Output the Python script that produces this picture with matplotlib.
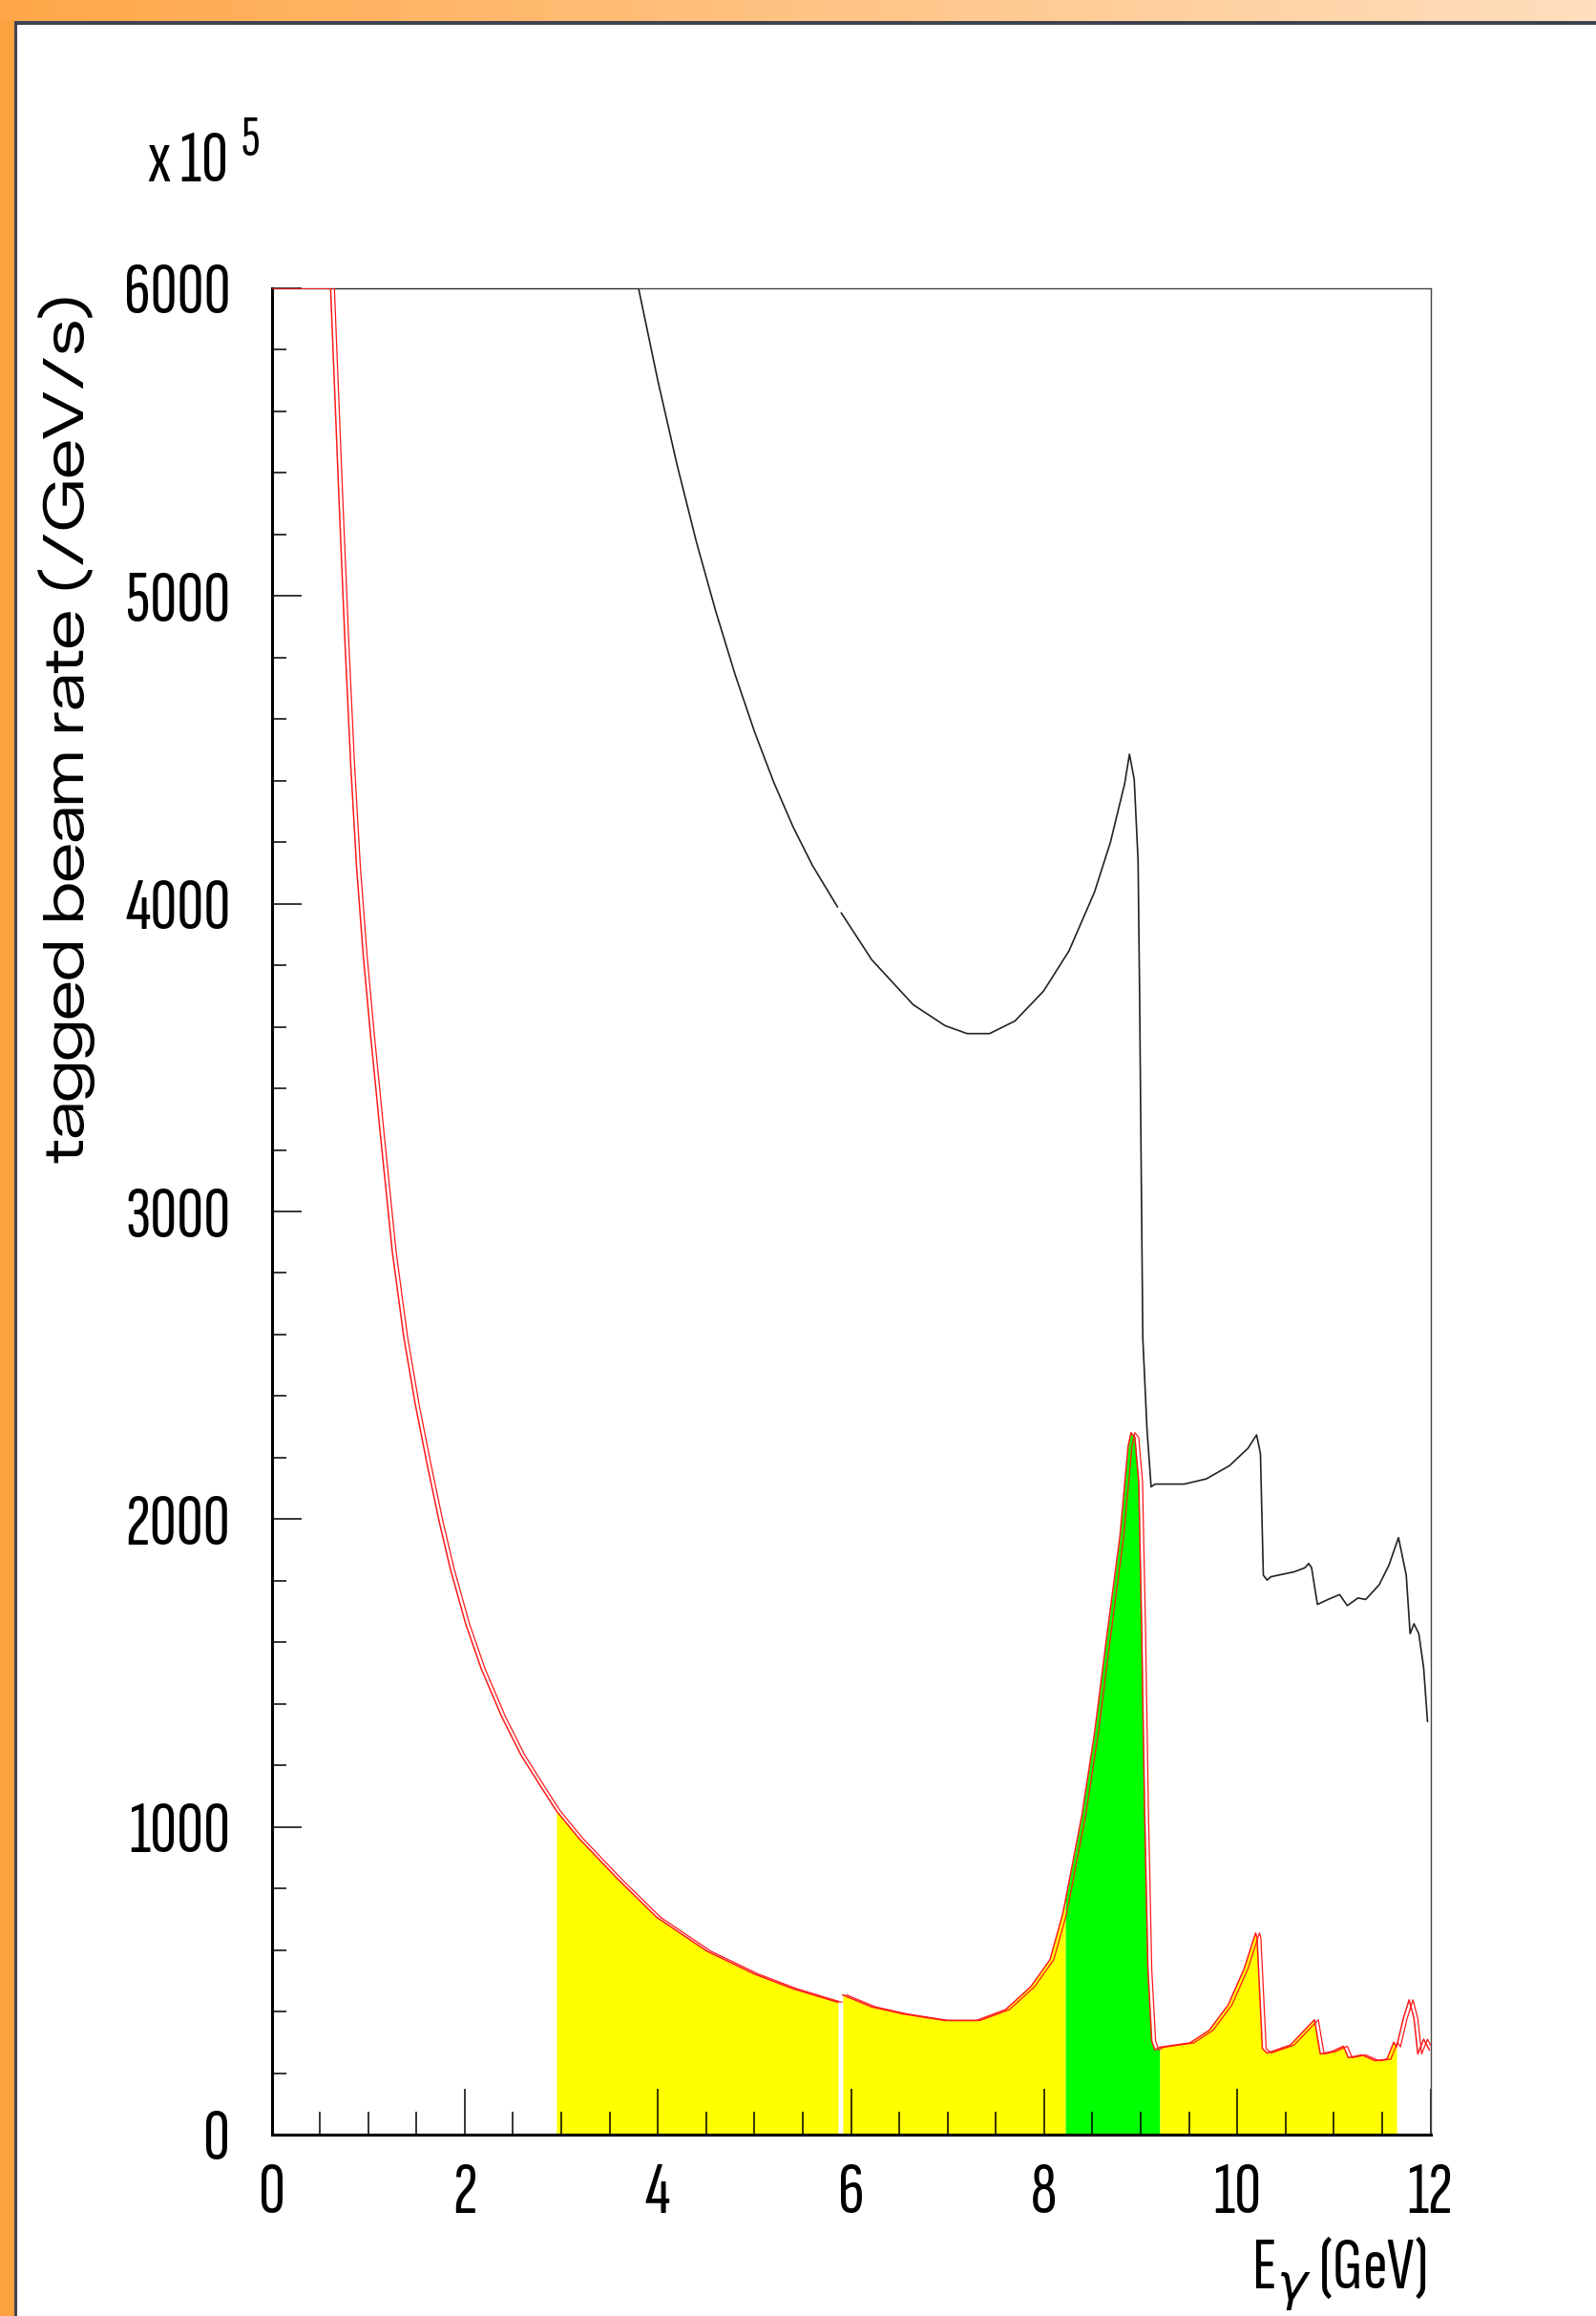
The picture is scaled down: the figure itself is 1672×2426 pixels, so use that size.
import numpy as np
import matplotlib
matplotlib.use("Agg")
import matplotlib.pyplot as plt
from matplotlib import font_manager as fm
from matplotlib.colors import LinearSegmentedColormap
from matplotlib.patches import Rectangle
from matplotlib.transforms import offset_copy

# --- tagged photon spectrum (rate in units of 1e5 /GeV/s) ---
# red: tagged rate, split at the gap between the two tagger sections
red_lo_e = [0.0, 0.611, 0.70, 0.76, 0.82, 0.88, 0.95, 1.02, 1.13, 1.25, 1.37,
            1.49, 1.61, 1.73, 1.85, 2.01, 2.17, 2.38, 2.58, 2.78, 2.95, 3.18,
            3.59, 3.99, 4.51, 5.00, 5.40, 5.866]
red_lo = [6000, 6000, 5300, 4850, 4450, 4120, 3830, 3590, 3240, 2870, 2590,
          2370, 2180, 2000, 1840, 1660, 1515, 1360, 1235, 1135, 1052, 964,
          829, 706, 596, 522, 474, 430]

red_hi_e = [5.915, 6.215, 6.545, 6.97, 7.30, 7.60, 7.86, 8.06, 8.19, 8.22,
            8.39, 8.52, 8.65, 8.785, 8.87, 8.90, 8.94, 8.98, 9.01, 9.04,
            9.075, 9.115, 9.148, 9.197, 9.51, 9.71, 9.905, 10.07, 10.19,
            10.205, 10.26, 10.31, 10.55, 10.74, 10.80, 10.86, 10.98, 11.10,
            11.15, 11.29, 11.43, 11.55, 11.62, 11.65, 11.72, 11.78, 11.83,
            11.87, 11.93, 11.99]
red_hi = [454, 415, 392, 371, 371, 406, 480, 568, 714, 760,
          1036, 1300, 1622, 1944, 2237, 2281, 2266, 2120, 1651, 1065,
          538, 304, 275, 284, 298, 339, 421, 538, 655,
          640, 280, 265, 291, 354, 373, 262, 270, 287,
          250, 259, 240, 245, 300, 285, 378, 438, 378,
          262, 310, 275]

# black: total (untagged) rate
black_lo_e = [0.0, 3.80, 4.00, 4.20, 4.40, 4.60, 4.80, 5.00, 5.20, 5.40,
              5.60, 5.86]
black_lo = [6000, 6000, 5700, 5425, 5175, 4950, 4745, 4560, 4395, 4250,
            4125, 3990]

black_hi_e = [5.90, 6.215, 6.644, 6.973, 7.203, 7.435, 7.698, 7.994, 8.258,
              8.522, 8.686, 8.834, 8.884, 8.933, 8.973, 8.989, 9.006, 9.022,
              9.065, 9.108, 9.148, 9.45, 9.68, 9.92, 10.11, 10.20, 10.24,
              10.27, 10.31, 10.35, 10.59, 10.70, 10.74, 10.77, 10.83, 10.94,
              11.06, 11.14, 11.25, 11.33, 11.47, 11.57, 11.67, 11.75, 11.79,
              11.83, 11.88, 11.93, 11.97]
black_hi = [3970, 3818, 3672, 3604, 3578, 3578, 3619, 3716, 3847,
            4038, 4199, 4390, 4486, 4404, 4140, 3701, 3116, 2589,
            2295, 2105, 2114, 2114, 2131, 2174, 2230, 2274, 2214,
            1818, 1802, 1813, 1829, 1842, 1856, 1842, 1723, 1739,
            1755, 1719, 1744, 1739, 1787, 1850, 1940, 1818, 1628,
            1660, 1628, 1518, 1343]

# tagged energy windows (GeV) and their shading
band_lo = [2.95, 5.915, 8.22, 9.197]
band_hi = [5.866, 8.22, 9.197, 11.65]
band_col = ["#ffff00", "#ffff00", "#00ff00", "#ffff00"]

x_ticks = [0, 2, 4, 6, 8, 10, 12]
y_ticks = [0, 1000, 2000, 3000, 4000, 5000, 6000]

W, H = 1672, 2426


def pick_font(*names):
    have = {f.name for f in fm.fontManager.ttflist}
    for n in names:
        if n in have:
            return [n, "DejaVu Sans"]
    return ["DejaVu Sans"]


NARROW = pick_font("Sofia Sans Extra Condensed", "Saira ExtraCondensed",
                   "Roboto Condensed", "Liberation Sans Narrow")
WIDE = pick_font("Zalando Sans Expanded", "Zalando Sans SemiExpanded")
LABEL_SIZE = 56

fig = plt.figure(figsize=(W / 100, H / 100), dpi=100, facecolor="white")

# slide frame: orange strips on the top and left, dark rule along the page
top_ax = fig.add_axes([0, 1 - 22 / H, 1, 22 / H])
cmap = LinearSegmentedColormap.from_list("strip", ["#ffa748", "#ffc383", "#ffdfbe"])
top_ax.imshow(np.linspace(0, 1, 256)[None, :], cmap=cmap, aspect="auto",
              extent=[0, 1, 0, 1])
top_ax.set_axis_off()
fig.add_artist(Rectangle((0, 0), 15 / W, 1 - 22 / H, transform=fig.transFigure,
                         facecolor="#fca33f", edgecolor="none"))
fig.add_artist(Rectangle((15 / W, 0), 3 / W, 1 - 22 / H, transform=fig.transFigure,
                         facecolor="#3d4450", edgecolor="none"))
fig.add_artist(Rectangle((15 / W, 1 - 26 / H), 1 - 15 / W, 4 / H,
                         transform=fig.transFigure, facecolor="#3d4450",
                         edgecolor="none"))

ax = fig.add_axes([284.5 / W, 190 / H, 1214 / W, 1934 / H])
ax.set_xlim(0, 12)
ax.set_ylim(0, 6000)

# shaded windows under the tagged curve
segments = [(np.array(red_lo_e), np.array(red_lo)),
            (np.array(red_hi_e), np.array(red_hi))]
for lo, hi, col in zip(band_lo, band_hi, band_col):
    for e, v in segments:
        if e[0] <= lo <= e[-1]:
            mask = (e >= lo - 1e-9) & (e <= hi + 1e-9)
            ax.fill_between(e[mask], 0, v[mask], color=col, lw=0, zorder=1)
            break

ax.plot(black_lo_e, black_lo, color="#222222", lw=1.2, zorder=3)
ax.plot(black_hi_e, black_hi, color="#222222", lw=1.2, zorder=3)

# tagged curve is drawn twice, the second copy nudged a few pixels right
shifted = offset_copy(ax.transData, fig=fig, x=4, y=0, units="dots")
for e, v in segments:
    ax.plot(e, v, color="#ff1a1a", lw=1.1, zorder=4)
    ax.plot(e, v, color="#ff1a1a", lw=0.9, zorder=4, transform=shifted)

# ROOT-like frame: heavy left/bottom axes, thin top/right
for side in ("left", "bottom"):
    ax.spines[side].set_linewidth(2.2)
    ax.spines[side].set_color("black")
for side in ("top", "right"):
    ax.spines[side].set_linewidth(1.0)
    ax.spines[side].set_color("#444444")

ax.set_xticks(x_ticks)
ax.set_xticks(np.arange(0, 12.01, 0.5), minor=True)
ax.set_yticks(y_ticks)
ax.set_yticks(np.arange(0, 6001, 200), minor=True)
ax.tick_params(axis="x", which="major", direction="in", length=34.5, width=1.1,
               pad=21, top=False)
ax.tick_params(axis="x", which="minor", direction="in", length=17.3, width=1.1,
               top=False)
ax.tick_params(axis="y", which="major", direction="in", length=22.3, width=1.1,
               pad=31, right=False)
ax.tick_params(axis="y", which="minor", direction="in", length=10.8, width=1.1,
               right=False)
ax.set_xticklabels([str(t) for t in x_ticks], family=NARROW, fontsize=LABEL_SIZE)
ax.set_yticklabels([str(t) for t in y_ticks], family=NARROW, fontsize=LABEL_SIZE)

# axis titles and exponent
fig.text(1494 / W, 3 / H, r"E$_{\gamma}$ (GeV)", family=NARROW,
         fontsize=LABEL_SIZE, ha="right", va="bottom")
ylab = fig.text(70 / W, 1 - 307 / H, "tagged beam rate (/GeV/s)", family=WIDE,
                fontsize=36, rotation=90, ha="center", va="top")
fig.text(155 / W, 1 - 190 / H, "x 10", family=NARROW, fontsize=LABEL_SIZE,
         ha="left", va="baseline")
fig.text(253 / W, 1 - 163 / H, "5", family=NARROW, fontsize=44,
         ha="left", va="baseline")

# stretch the axis title to run along the upper part of the y axis
fig.canvas.draw()
span = ylab.get_window_extent().height
ylab.set_fontsize(36 * 913 / span)

fig.savefig("out.png", dpi=100, facecolor=fig.get_facecolor())
